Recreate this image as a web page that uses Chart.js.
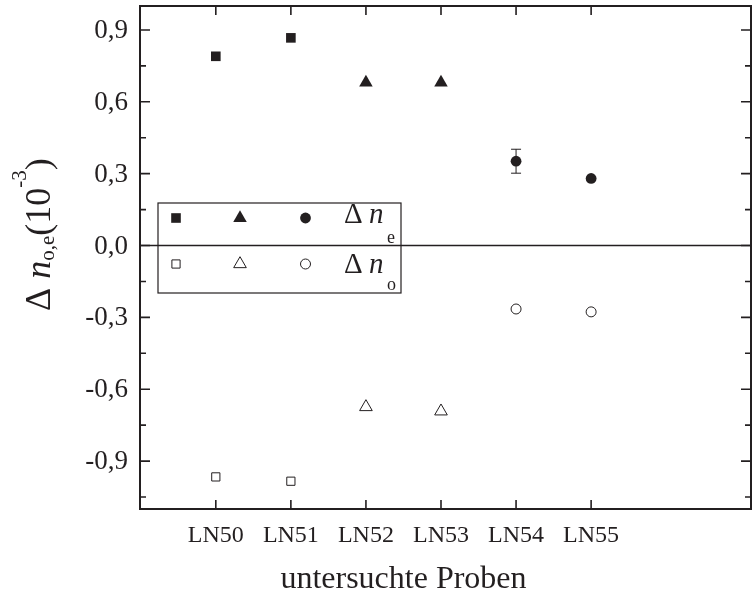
<!DOCTYPE html>
<html>
<head>
<meta charset="utf-8">
<script src="https://cdn.jsdelivr.net/npm/chart.js@4/dist/chart.umd.min.js"></script>
<style>
html,body{margin:0;padding:0;background:#fff;}
#wrap{width:753px;height:594px;}
</style>
</head>
<body>
<div id="wrap"><canvas id="c" width="753" height="594"></canvas></div>
<script>
const categories = ['LN50','LN51','LN52','LN53','LN54','LN55'];
const deltaNe = [0.79, 0.867, 0.68, 0.68, 0.352, 0.28];
const deltaNo = [-0.966, -0.984, -0.674, -0.692, -0.265, -0.277];
const deltaNeErr = [0, 0, 0, 0, 0.05, 0];
const yTickValues = [-0.9, -0.6, -0.3, 0, 0.3, 0.6, 0.9];
const yMinorValues = [-1.05, -0.75, -0.45, -0.15, 0.15, 0.45, 0.75];
const xTitle = 'untersuchte Proben';

const INK = '#231f20';
const SERIF = '"Liberation Serif", "Times New Roman", serif';
const pointStyles = ['rect','rect','triangle','triangle','circle','circle'];
const filledRadius = [6.8, 6.8, 7.8, 7.8, 5.4, 5.4];
const hollowRadius = [5.8, 5.8, 7.3, 7.3, 5.0, 5.0];
const fmt = v => v.toFixed(1).replace('.', ',');

function drawMarker(ctx, style, x, y, r, filled) {
  ctx.save();
  ctx.beginPath();
  if (style === 'rect') {
    const s = Math.SQRT1_2 * r;
    ctx.rect(x - s, y - s, 2 * s, 2 * s);
  } else if (style === 'triangle') {
    ctx.moveTo(x, y - r);
    ctx.lineTo(x + Math.cos(Math.PI/6) * r, y + r / 2);
    ctx.lineTo(x - Math.cos(Math.PI/6) * r, y + r / 2);
    ctx.closePath();
  } else {
    ctx.arc(x, y, r, 0, Math.PI * 2);
  }
  if (filled) { ctx.fillStyle = INK; ctx.fill(); }
  else { ctx.fillStyle = '#fff'; ctx.fill(); ctx.lineWidth = 1; ctx.strokeStyle = INK; ctx.stroke(); }
  ctx.restore();
}

const framePlugin = {
  id: 'frame',
  beforeDatasetsDraw(chart) {
    const {ctx, chartArea: a, scales: {x, y}} = chart;
    ctx.save();
    ctx.strokeStyle = INK;
    ctx.lineWidth = 1.6;
    const y0 = y.getPixelForValue(0);
    ctx.beginPath(); ctx.moveTo(a.left, y0); ctx.lineTo(a.right, y0); ctx.stroke();
    ctx.lineWidth = 1;
    deltaNeErr.forEach((e, i) => {
      if (!e) return;
      const px = x.getPixelForValue(i);
      const pt = y.getPixelForValue(deltaNe[i] + e);
      const pb = y.getPixelForValue(deltaNe[i] - e);
      ctx.beginPath();
      ctx.moveTo(px, pt); ctx.lineTo(px, pb);
      ctx.moveTo(px - 5, pt); ctx.lineTo(px + 5, pt);
      ctx.moveTo(px - 5, pb); ctx.lineTo(px + 5, pb);
      ctx.stroke();
    });
    ctx.restore();
  },
  afterDraw(chart) {
    const {ctx, chartArea: a, scales: {x, y}} = chart;
    ctx.save();
    ctx.strokeStyle = INK;
    ctx.fillStyle = INK;
    ctx.lineWidth = 2;
    ctx.strokeRect(a.left, a.top, a.right - a.left, a.bottom - a.top);
    ctx.lineWidth = 1.6;
    ctx.beginPath();
    yTickValues.forEach(v => {
      const py = y.getPixelForValue(v);
      ctx.moveTo(a.left, py); ctx.lineTo(a.left + 10, py);
      ctx.moveTo(a.right, py); ctx.lineTo(a.right - 10, py);
    });
    yMinorValues.forEach(v => {
      const py = y.getPixelForValue(v);
      ctx.moveTo(a.left, py); ctx.lineTo(a.left + 6, py);
      ctx.moveTo(a.right, py); ctx.lineTo(a.right - 6, py);
    });
    categories.forEach((c, i) => {
      const px = x.getPixelForValue(i);
      ctx.moveTo(px, a.bottom); ctx.lineTo(px, a.bottom - 9);
      ctx.moveTo(px, a.top); ctx.lineTo(px, a.top + 9);
    });
    ctx.stroke();

    ctx.font = '27px ' + SERIF;
    ctx.textAlign = 'right';
    ctx.textBaseline = 'middle';
    yTickValues.forEach(v => ctx.fillText(fmt(v), a.left - 12, y.getPixelForValue(v) + 1));
    ctx.font = '24px ' + SERIF;
    ctx.textAlign = 'center';
    ctx.textBaseline = 'alphabetic';
    categories.forEach((c, i) => ctx.fillText(c, x.getPixelForValue(i), a.bottom + 33));
    ctx.font = '32px ' + SERIF;
    const xc = (x.getPixelForValue(0) + x.getPixelForValue(categories.length - 1)) / 2;
    ctx.fillText(xTitle, xc, a.bottom + 79);

    const lx = 158, ly = 203, lw = 243, lh = 90;
    ctx.lineWidth = 1.2;
    ctx.strokeRect(lx, ly, lw, lh);
    const mx = [176, 240, 305.5];
    const r1 = 218, r2 = 264;
    ['rect','triangle','circle'].forEach((s, k) => {
      const fi = k * 2;
      drawMarker(ctx, s, mx[k], r1, filledRadius[fi], true);
      drawMarker(ctx, s, mx[k], r2, hollowRadius[fi], false);
    });
    ctx.textAlign = 'left';
    function legendLabel(baseY, sub, off) {
      ctx.font = '29px ' + SERIF;
      ctx.fillText('\u0394', 344, baseY);
      ctx.font = 'italic 29px ' + SERIF;
      ctx.fillText('n', 369, baseY);
      ctx.font = '18px ' + SERIF;
      ctx.fillText(sub, 387, baseY + off);
    }
    legendLabel(223, 'e', 20);
    legendLabel(273, 'o', 17);

    ctx.save();
    ctx.translate(50, 311);
    ctx.rotate(-Math.PI / 2);
    let cx = 0;
    ctx.font = '36px ' + SERIF;
    ctx.fillText('\u0394', cx, 0); cx += ctx.measureText('\u0394 ').width;
    ctx.font = 'italic 36px ' + SERIF;
    ctx.fillText('n', cx, 0); cx += ctx.measureText('n').width;
    ctx.font = '21px ' + SERIF;
    ctx.fillText('o,e', cx, 4); cx += ctx.measureText('o,e').width;
    ctx.font = '36px ' + SERIF;
    ctx.fillText('(10', cx, 0); cx += ctx.measureText('(10').width;
    ctx.font = '21px ' + SERIF;
    ctx.fillText('-3', cx, -24); cx += ctx.measureText('-3').width;
    ctx.font = '36px ' + SERIF;
    ctx.fillText(')', cx, 0);
    ctx.restore();
    ctx.restore();
  }
};

const idx = categories.map((c, i) => i);
new Chart(document.getElementById('c'), {
  type: 'scatter',
  data: {
    datasets: [
      {
        label: '\u0394 n_e',
        data: idx.map(i => ({x: i, y: deltaNe[i]})),
        pointStyle: pointStyles,
        pointRadius: filledRadius,
        backgroundColor: INK,
        borderColor: INK,
        borderWidth: 0
      },
      {
        label: '\u0394 n_o',
        data: idx.map(i => ({x: i, y: deltaNo[i]})),
        pointStyle: pointStyles,
        pointRadius: hollowRadius,
        backgroundColor: '#fff',
        borderColor: INK,
        borderWidth: 1
      }
    ]
  },
  options: {
    responsive: false,
    animation: false,
    events: [],
    layout: {autoPadding: false, padding: {top: 6, right: 2, left: 0, bottom: 0}},
    plugins: {legend: {display: false}, tooltip: {enabled: false}},
    scales: {
      x: {
        type: 'linear',
        min: -1.01,
        max: 7.13,
        afterBuildTicks(s) { s.ticks = idx.map(v => ({value: v})); },
        afterFit(s) { s.height = 85; },
        grid: {display: false, drawTicks: false},
        border: {display: false},
        ticks: {display: false},
        title: {display: false}
      },
      y: {
        min: -1.1,
        max: 1.0,
        afterBuildTicks(s) { s.ticks = yTickValues.map(v => ({value: v})); },
        afterFit(s) { s.width = 140; },
        grid: {display: false, drawTicks: false},
        border: {display: false},
        ticks: {display: false}
      }
    }
  },
  plugins: [framePlugin]
});
</script>
</body>
</html>
